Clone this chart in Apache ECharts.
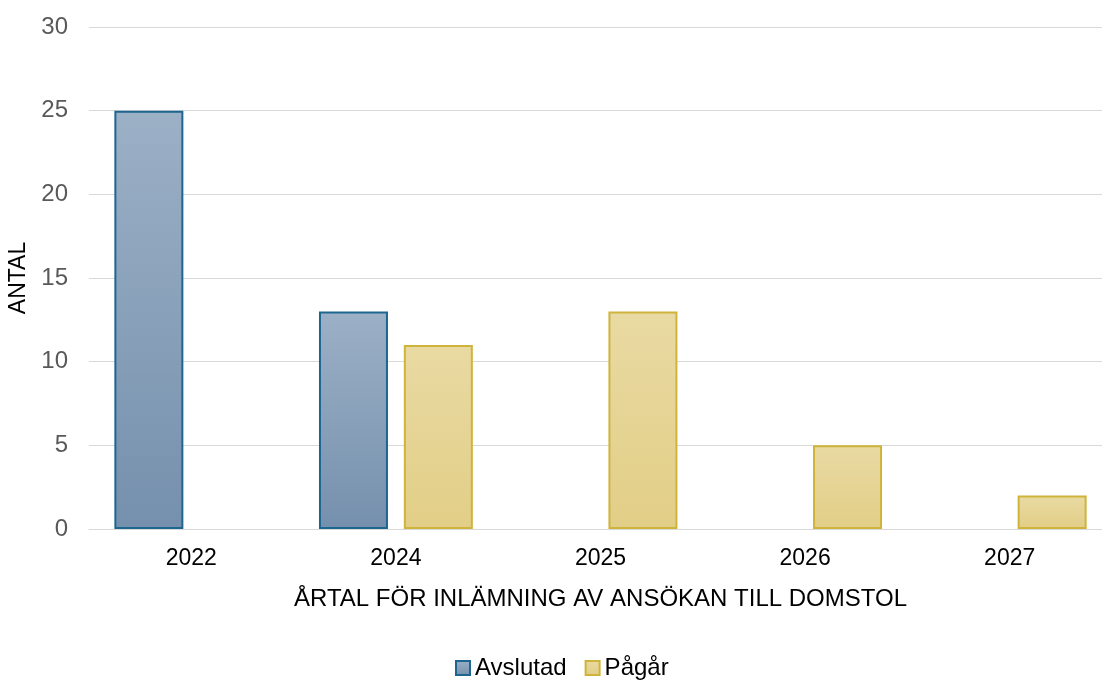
<!DOCTYPE html>
<html>
<head>
<meta charset="utf-8">
<script src="https://cdn.jsdelivr.net/npm/echarts@6/dist/echarts.min.js"></script>
<style>
html, body { margin: 0; padding: 0; background: #fff; }
#chart { width: 1102px; height: 680px; }
</style>
</head>
<body>
<div id="chart"></div>
<script>
// år för inlämning
var years = ['2022', '2024', '2025', '2026', '2027'];
// antal per status (null = ingen stapel)
var avslutad = [25, 13, null, null, null];
var pagar = [null, 11, 13, 5, 2];
var yTicks = { min: 0, max: 30, interval: 5 };

var chart = echarts.init(document.getElementById('chart'));
var font = '"Liberation Sans", Arial, sans-serif';

chart.setOption({
	backgroundColor: '#fff',
	animation: false,
	textStyle: { fontFamily: font },
	grid: { left: 89, width: 1023, top: 27, bottom: 151, outerBoundsMode: 'none' },
	legend: {
		bottom: -5,
		left: 450,
		itemWidth: 14,
		itemHeight: 14,
		itemGap: 18,
		textStyle: { fontSize: 24, color: '#000', fontFamily: font },
		data: [
			{ name: 'Avslutad', icon: 'rect' },
			{ name: 'Pågår', icon: 'rect' }
		]
	},
	xAxis: {
		type: 'category',
		data: years,
		name: 'ÅRTAL FÖR INLÄMNING AV ANSÖKAN TILL DOMSTOL',
		nameLocation: 'middle',
		nameGap: 58,
		nameTextStyle: { fontSize: 24, color: '#000', fontFamily: font },
		axisLine: { lineStyle: { color: '#d9d9d9', width: 1 } },
		axisTick: { show: false },
		axisLabel: { fontSize: 23, color: '#000', margin: 18 }
	},
	yAxis: {
		type: 'value',
		min: yTicks.min,
		max: yTicks.max,
		interval: yTicks.interval,
		name: 'ANTAL',
		nameLocation: 'middle',
		nameGap: 50,
		nameRotate: 90,
		nameTextStyle: { fontSize: 23, color: '#000', fontFamily: font },
		axisLine: { show: false },
		axisTick: { show: false },
		axisLabel: { fontSize: 24, color: '#595959', margin: 21 },
		splitLine: { lineStyle: { color: '#d9d9d9', width: 1 } }
	},
	series: [
		{
			name: 'Avslutad',
			type: 'bar',
			data: avslutad,
			barWidth: 69,
			barGap: '23%',
			itemStyle: {
				color: new echarts.graphic.LinearGradient(0, 0, 0, 1, [
					{ offset: 0, color: '#9cb0c6' },
					{ offset: 1, color: '#7590ad' }
				]),
				borderColor: '#1c6690',
				borderWidth: 2
			}
		},
		{
			name: 'Pågår',
			type: 'bar',
			data: pagar,
			barWidth: 69,
			barGap: '23%',
			itemStyle: {
				color: new echarts.graphic.LinearGradient(0, 0, 0, 1, [
					{ offset: 0, color: '#e9daa3' },
					{ offset: 1, color: '#e2ce86' }
				]),
				borderColor: '#cfb43c',
				borderWidth: 2
			}
		}
	]
});
</script>
</body>
</html>
